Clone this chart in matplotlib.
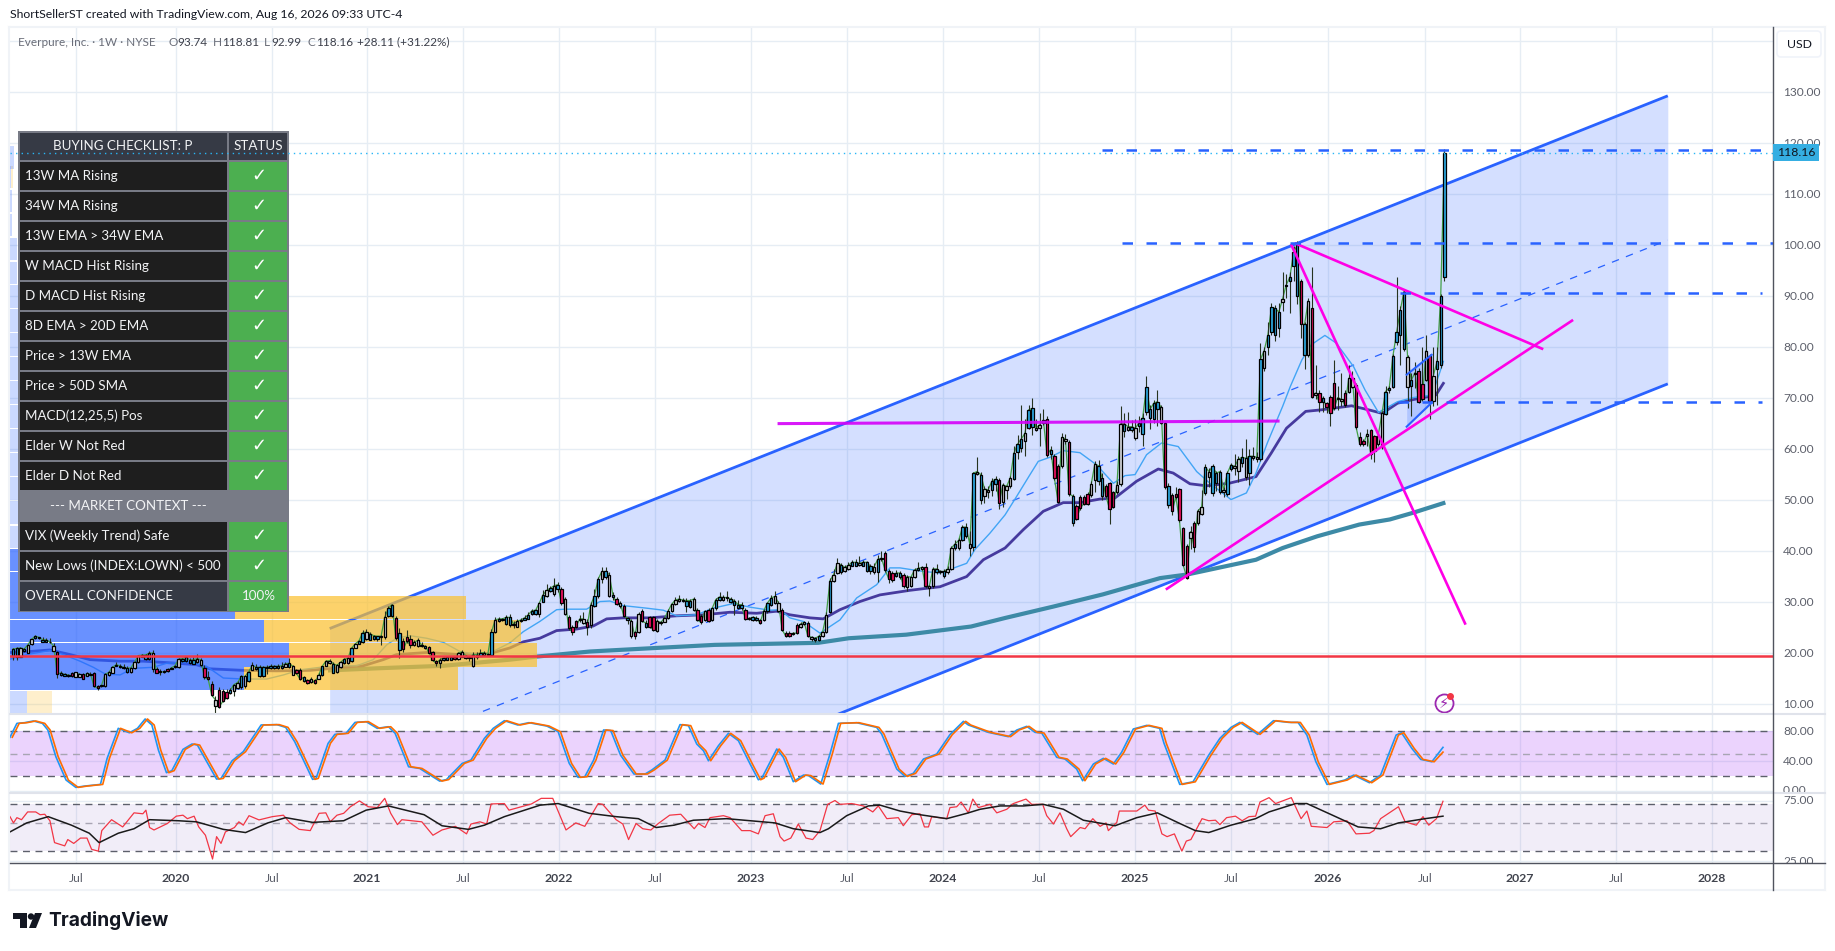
import numpy as np
import pandas as pd
import matplotlib
matplotlib.use("Agg")
import matplotlib.pyplot as plt
from matplotlib.lines import Line2D
from matplotlib.patches import Rectangle, Polygon, Circle, FancyBboxPatch
from matplotlib.transforms import Affine2D, Bbox

# ---- weekly candles (390 weeks up to Aug 2026)
last_week = "2026-08-10"
body_tops = [
    20.8,20.9,21,20.8,21.6,22.7,23.3,23.1,22.6,22.6,
    22.2,21.4,20.2,16.1,15.8,15.7,16.1,16.2,15.8,15.9,
    16,15.9,16,13.6,13.6,15.8,16.2,17.2,17.7,17.5,
    17.2,17,17.1,18.2,19.5,19.6,19.6,20,20,16.8,
    16.5,16.5,16.9,17.1,17.5,18.8,18.9,19.2,18.6,18.7,
    18.9,18.7,17,15.3,13.9,10.8,12.7,12.5,12.3,12.7,
    13.8,14.2,15.4,15.4,16.3,17.6,17.2,17.2,17.2,17.2,
    17.4,17.4,17.4,17.5,17.9,18,17.4,16.6,16.7,15.2,
    14.8,14.9,14.8,15.6,17.4,18.4,18.5,17.9,17.6,18.2,
    18.8,19,21,21.8,22.4,24,24.1,23.8,23.4,23.3,
    23.3,27,28.8,29.5,26.8,24,22.3,23.1,22.7,22.1,
    22.5,21.6,21.3,21.1,20.2,18.4,18.7,19.1,19.2,19.2,
    19.3,20,20.2,19.5,19.1,19.7,19.7,20,20.1,19.7,
    24.1,26.5,26.7,26.7,27,27,25.7,26.2,26.5,26.9,
    27.5,28.3,28.4,29.8,31.4,32.3,32.7,33.2,33.4,32.5,
    30.6,27,25.2,26.2,26.7,26.7,26,29.5,31.2,34.5,
    36,36,35.4,31.4,30.6,29.8,29.3,26.9,26.3,24.2,
    27.6,28.3,25.9,27,27,26.3,26,26.8,28.2,29.6,
    30.4,30.6,30.4,30.3,30.3,30.6,28.4,27.3,28.2,28.5,
    28.8,30.5,31,30.9,30.9,30.6,30.3,29.5,29.5,28.5,
    26.8,27,26.9,26.5,28.3,29.8,30.8,31.1,29.9,28.4,
    24,23.9,23.9,25.4,25.7,26,25.9,23.1,22.9,23.3,
    24.1,27.5,34.2,35.4,37.6,37.3,36.8,37.2,37.8,37.8,
    37.6,37.8,37.8,37,36.9,38.4,38.6,39.7,36,35.7,
    35.7,35.7,35.4,35,34.9,36.3,36.6,36.8,36.8,33.1,
    36.5,36.5,36,36,36.5,40.6,41.4,42.1,44.7,44.7,
    41.4,55.3,55.6,55,52.2,52,53.7,54.1,54,53,
    52.7,54.3,59.2,61,62,63.1,67.7,68,64.1,64.8,
    65.7,66,59.9,58.7,56.7,62.3,62,61.4,50.8,48.9,
    50.7,50.7,51.2,53.1,57.1,56.7,54.3,52.8,53.3,51.5,
    53,65,65,64.4,64.4,64.1,65.2,66.2,72.1,67.8,
    69,69.3,68.2,65.1,52.7,51,51.2,52.1,44.5,41,
    43.8,45.6,47.9,48.6,56.5,55.6,56.6,55.3,55.6,52,
    55.3,56.9,56.6,58,58.4,58.2,58.6,58.6,58.4,77.6,
    79.3,82.3,87.8,87.6,86.9,89.4,92.2,93.7,98.6,100,
    92.9,84.5,89.1,87.6,71,71,70,69,70.2,72.9,
    70.1,69.8,71,73.9,73.9,72.6,62.3,61.6,63,63.7,
    62.5,62.6,67,71.3,72,78.2,82.9,87.2,90.9,78,
    73.5,75,75.4,72.7,79.3,78.2,74.4,77.2,90,118.16,
]
body_bottoms = [
    19.5,19.2,19.3,20.3,20.1,21.8,22.9,22.9,22.2,22.2,
    22.1,20.4,15.9,15.7,15.5,15.4,15.4,15.3,15.3,15,
    15.5,15.7,13.5,13.1,13.5,13.5,15.7,16.1,17.5,17.2,
    17,16.2,16.2,17,18.2,19.3,18.8,18.8,16.9,16.1,
    16.3,16.3,16.4,16.9,17.2,17.2,18.4,18.4,18,17.9,
    18.2,17.7,15.2,14.9,11.7,9.6,9.5,10.5,11.2,12.1,
    12.5,13.1,13.3,13.6,14.6,16.7,16.9,15.5,15.4,17.1,
    17.1,17.1,17.1,17.1,17.3,17.2,15.7,16,14.9,14.6,
    14.1,14.4,14.1,15,15.6,17.5,18,16.1,16.2,17.2,
    18,18,18.4,21,21.8,22.1,22.7,22.6,22.7,22.7,
    23.1,23.2,27.3,27.3,23,20.5,20.7,22.3,21.6,21.6,
    21.4,21.4,21,20.1,18.6,18,18,18.7,18.7,18.7,
    18.8,18.8,19.3,19.1,19,17.4,19.2,19.5,19.6,19.6,
    19.7,24.1,26.2,26.4,25.7,25.5,25.4,25.2,26.2,26.5,
    26.7,27.6,27.7,27.7,30.1,31.1,32.1,31.6,32.5,29.8,
    27.7,24.9,24.2,25.2,26.4,25.9,25.2,25.5,29.3,31.2,
    34.5,35,31.2,31,29.7,29.3,27.2,26.5,23.3,23.3,
    24.2,26.2,25.2,25.2,24.6,24.4,25.8,26.1,26.8,28.2,
    29.6,30.3,30.3,29.3,29,28.5,26.5,26,26.4,26.2,
    26.5,28.8,30.5,30.5,30.7,30.1,29.5,28.8,28.8,26.7,
    26.7,26.5,26.4,25.9,26.4,28.2,29.5,29.8,28.2,24.6,
    23.3,23.3,23.7,23.9,25.2,25.6,23.3,22.7,22.6,22.6,
    23.3,24.2,28,34.2,35.7,35.8,36,36.5,37.1,37.1,
    37.3,37.1,36,36,35.8,35.8,38.4,36.3,34.5,34.4,
    35.2,35,33.1,32.9,33.2,34.9,36.2,36.5,33.1,32.8,
    33.1,35.8,35.8,35.2,35.8,36.5,40.6,40.6,42.1,42.9,
    40.6,40.8,55.2,50,50.9,51.5,51.9,53.2,49.5,49.7,
    52,52.7,54.2,59.4,60.2,61.5,64.1,64.4,63.8,64.1,
    65.2,58.9,59.1,54.3,49.7,56.6,61.5,51.2,45.6,46.3,
    48.4,49.3,49.3,51,53.9,53.8,50.9,50.8,48.2,48.7,
    51.5,53.1,63.6,63.8,63.8,62.2,64.6,63,67.2,66.2,
    65.9,67.8,65.2,52.5,49.1,47.8,50.6,46,37.3,34.7,
    42.5,40.8,45.5,47.2,51.4,54.6,51.4,53.3,51.5,51.5,
    51.2,56.1,56.3,55.8,57.2,54.5,55.3,58.2,58,58,
    76,80,82.9,82.3,83.7,88.8,91.9,92.9,96,90,
    84.5,78.4,78.4,70.3,70.7,69.2,69.2,68.2,67,68,
    69.9,69.5,68.6,71.3,72.2,64.3,61,61,62.6,59.1,
    59.7,61,60.4,66.9,71.5,72.2,81.1,82.4,79.6,72.2,
    72.3,74.7,69.3,69.8,73.6,69.5,69.5,75.7,76.5,93.74,
]
wick_highs = [
    21,21.1,21.1,21,21.7,22.8,23.6,23.2,23.1,23,
    22.9,22,20.4,16.4,16,15.9,16.3,16.3,16,16,
    16.2,16.2,16.2,13.8,13.7,16,16.4,17.4,18.2,17.8,
    17.9,17.5,17.3,18.4,19.6,19.8,19.9,20.3,20.6,17.2,
    16.8,16.7,17.1,17.3,17.6,19,19,19.4,19,19.2,
    19.8,19,17.6,16.5,14.5,11.5,13.3,13,13,13.2,
    14,14.6,15.6,15.6,16.5,18.2,17.8,17.6,17.5,17.6,
    17.8,17.7,17.9,18.3,18.2,19,17.6,16.8,17,15.4,
    15,15.2,15,16,17.5,18.6,18.8,18.2,17.8,18.4,
    19,19.5,21.2,22,22.6,24.6,24.8,24.2,23.6,23.4,
    23.6,28.2,29.2,29.7,27.2,25,23,24.6,23.6,22.6,
    23,22.2,21.5,21.4,20.4,18.6,19,19.3,19.4,19.3,
    19.4,20.2,20.5,19.7,19.3,20.2,20.2,20.7,20.4,20.1,
    24.8,27,27,26.9,27.5,27.6,26.3,26.6,26.8,27.4,
    28,28.6,28.7,30.1,32.3,33.5,33.1,34.8,34,33,
    31,27.4,25.5,26.5,27.4,28,26.6,30,32.5,35,
    36.8,36.8,35.8,31.9,30.9,30.3,29.6,27.1,26.6,24.4,
    28,28.6,26.4,27.2,27.3,26.6,26.2,27,28.7,29.9,
    30.9,31.4,30.8,30.7,30.6,31,28.8,27.6,28.5,28.8,
    29.1,30.8,31.9,31.3,32.2,31,30.6,30.5,30.1,28.8,
    27.1,27.2,27.3,26.7,28.6,30,31.4,32.2,30.2,28.8,
    24.3,24.4,24.2,25.8,26,26.2,26.2,23.4,23.1,23.6,
    24.4,28,34.8,36.5,38.6,37.6,37.2,37.8,38.2,38.4,
    39,38.2,38,37.4,37.6,39.2,40,40,36.4,36,
    36.2,36,35.7,35.4,35.2,36.6,37.8,37.1,37.6,33.3,
    36.8,37.4,36.3,36.5,37,41,42.1,42.5,45.2,45.6,
    44,55.5,58.4,55.6,52.7,52.8,54.3,54.8,54.3,53.3,
    53,54.8,60.7,62.7,68.6,66,68.6,70.1,66,67,
    67.8,66.5,60.7,59.1,57,63.2,63,61.7,51.2,49.2,
    51,51,51.5,53.7,57.6,57.8,55.4,53.1,53.6,51.8,
    53.7,68.4,67,67.2,65.7,66,66.4,67,74.4,68.7,
    69.6,71.5,68.6,65.4,53.3,51.3,52.5,52.4,44.8,41.4,
    45,45.9,48.2,52,57,56.2,57,55.7,56,52.6,
    55.7,57.3,59.1,58.7,60.2,61.9,60,60.5,59.5,80.8,
    80,85,88.7,88.2,88.6,94.8,94.4,94.8,99.9,100.8,
    93.3,84.9,89.7,95.7,76.5,71.5,70.4,69.3,70.6,77.5,
    72.3,75,71.5,76.5,75.4,73,63.3,62,64,64,
    62.8,63,67.4,72.3,72.3,78.6,93.8,88,91.5,78.4,
    75,77,76,80,82.3,78.6,80,80,90.5,118.81,
]
wick_lows = [
    18.7,18.7,19.2,20.2,20,21.6,22.8,22.8,22.1,22.1,
    22,20.3,15.1,15.5,15.4,15.2,15.3,15.2,15.2,14.9,
    15.4,15.6,13.4,12.8,13.3,13.4,15.5,16,17.4,17.1,
    16.9,16.1,16,16.9,18.1,19.2,18.7,18.6,16.3,16,
    15.7,16.1,16.3,16.8,17.1,17.1,18.2,18.3,17.9,17.8,
    18.1,17.5,15,14.7,11.5,8.2,9.3,10.3,11,12,
    11.6,13,13,13.2,14.4,16.6,16.7,15.3,15.2,15.9,
    16.8,16.9,16.9,16.8,17.2,17.1,15.6,15.8,14.7,14.4,
    14,14.2,14,14.9,15.4,17.4,17.9,16,16,17.1,
    17.9,17.9,18.2,20.9,21.7,22,22.5,22.5,22.5,22.4,
    21.5,22.8,27,27,22.6,19,20.2,22,21,21.4,
    21.2,21.2,20.7,20,18.4,17.4,17,18.4,18.6,18.7,
    18.7,18.7,19.2,18.9,18.4,17.3,18.9,19.4,19.4,19.4,
    19.5,23.9,26.1,26.2,25.5,25.2,25,25.1,26,26.4,
    26.6,27.5,27.5,27.1,30,31,32,31.2,32,29.5,
    27.4,24.5,23.5,25,26,25.6,23.5,25,29,30.8,
    33.8,34.5,31,30.5,29.5,28.8,27,25.7,23,22.7,
    23.9,26,25,25,24.3,24.2,25.5,26,26.6,28,
    29.4,30.1,30,28,28.8,28.2,26.2,25.7,26.2,26,
    26.3,28.5,30.3,30.3,30.2,29.8,27.4,28.6,28.4,26.5,
    26.4,26.3,26.2,25.6,26.2,27.8,29.2,29.6,28,24.4,
    23.1,23.1,23.5,23.7,25,25.5,23.1,22.4,22.2,22.4,
    23.2,24,27.8,34,35.5,35.5,35.8,36.3,37,37,
    37.1,37,35.8,35.6,35.5,34,38,35.9,33.8,34,
    34.9,34.6,32.7,32.2,32.9,34.7,36,36.3,32.8,31.1,
    32.8,35.5,35.5,34.8,35.6,36.2,40.3,40.3,41.9,42.6,
    39,40,54.9,49.2,49.5,50.5,50.9,51.8,48.3,48.7,
    50.3,52.3,53.9,58,59.5,58.6,63.9,62.7,63.5,60.7,
    64.8,58.5,58,54,49.4,56.3,61,50.9,44.9,46,
    48.1,49,49,50.6,51.5,53,50,50.5,45.3,48.4,
    51.2,52.8,62.3,63.5,63.4,61.7,63.3,60.7,66.6,64,
    65.2,64.5,65,52.2,48.5,47,50.3,45.7,37,34.5,
    40.5,39.8,45.2,47,51,52.6,50.8,51.8,51.2,50.6,
    50.9,55.8,55,53.5,56.5,54,53,57.8,57.5,57.7,
    75.4,78.5,82.4,81.3,82,87,89.7,86.7,93,88.4,
    81.8,75.7,78,70,69.8,67.3,67.2,67,64.6,67.7,
    67.7,68.5,68.2,71,72,64,60.7,60.7,60.7,58,
    57.5,60.7,60,66.6,71,71.9,80.5,76.5,79.3,68,
    66.5,72,69,69.5,73.3,65.9,68.5,68.6,76,92.99,
]
body_kinds = (
    "bbwbwwbbbb" "wwrbbbrwwr" "wbrrwwwwbb" "bbwwwbbbwr" "rrrbbwbbbb"
    "wwrrrwrrrb" "wwbwbwbbbb" "bbbbwbwrrb" "rwrwbwwbww" "bwbwbbwbbb"
    "wwbbrbrrrw" "wbbrrrwbbb" "rwwbbwwbwb" "bwbbbbbwbb" "bbbwbwbwbr"
    "wrrrbwrwbb" "wbwbrwrbwr" "wrbrrwbwww" "wwbbbwrrwr" "wbbwbbbbbr"
    "bbbrwbbwwr" "rrbrwwrwbb" "wwbwwbwwbb" "wbbbwbwrrr" "bbrwwwbwrw"
    "wbbbwwbwbb" "wbwbwwbbrw" "wwbbbwbbww" "brbrrwwrbr" "rrrwwbbrrr"
    "wwbwbwbbbb" "bbwrbrrrrr" "wrwwbwbbbw" "bbwwbwbwwb" "wbbbbwbbbb"
    "rbwrwrbrrr" "wwrwwrrrwr" "rwwbbbbbbw" "bwrrwrwbbb"
)

# ---- moving averages, vertices (decimal year, price)
ma13_years = [2019.135,2019.222,2019.343,2019.413,2019.5,2019.569,2019.63,2019.708,2019.777,2019.882,2019.951,
    2020.073,2020.159,2020.246,2020.35,2020.472,2020.559,2020.645,2020.75,2020.854,2020.941,
    2021.027,2021.097,2021.149,2021.218,2021.305,2021.392,2021.479,2021.566,2021.618,2021.687,2021.739,2021.809,2021.895,2021.982,
    2022.026,2022.138,2022.208,2022.26,2022.329,2022.451,2022.538,2022.607,2022.711,2022.798,2022.902,2022.989,
    2023.093,2023.145,2023.197,2023.267,2023.354,2023.406,2023.458,2023.545,2023.649,2023.718,2023.771,2023.892,2023.979,
    2024.118,2024.161,2024.239,2024.318,2024.378,2024.448,2024.491,2024.552,2024.621,2024.708,2024.795,2024.882,2024.943,2024.995,
    2025.055,2025.133,2025.22,2025.316,2025.385,2025.495,2025.575,2025.625,2025.684,2025.764,2025.804,2025.864,2025.914,2025.984,
    2026.043,2026.133,2026.193,2026.263,2026.362,2026.442,2026.542,2026.581,2026.601]
ma13_prices = [18.8,19.7,20.5,19.7,18.4,17.2,15.9,15.7,17,17.2,18,
    18.2,17.4,15.1,14.9,14.9,15.7,16.7,17.2,17.5,17.5,
    18.7,21.6,22.9,23.4,22.9,22.1,20.3,19.7,19.7,21,22,24.2,26.2,28.5,
    28.6,28.6,30.1,30.2,29.3,28.8,28.4,27.3,27.5,28.8,29.7,29,
    28.4,28.5,26.9,26.2,23.9,25.2,26.5,30.8,33.4,36.7,36.7,36,35.7,
    37.6,40.3,43.5,47.1,50.7,55,57.6,58.4,59.7,59.3,56.9,53.3,54.8,55,
    58.9,61.2,60.5,55.6,53.3,50.1,51.4,55.3,61.2,68.4,72.3,77.5,80.5,82.3,
    80.8,76.2,71.6,67.2,69.3,70.1,70.6,74.9,77.2]

ma34_years = [2019.135,2019.239,2019.343,2019.448,2019.552,2019.708,2019.829,2020.003,2020.107,2020.177,2020.35,2020.524,2020.698,2020.871,2020.975,
    2021.079,2021.149,2021.305,2021.479,2021.635,2021.739,2021.809,2021.895,2021.982,
    2022.086,2022.173,2022.243,2022.329,2022.468,2022.607,2022.746,2022.885,
    2023.024,2023.128,2023.197,2023.302,2023.371,2023.458,2023.562,2023.666,2023.822,2023.909,2023.979,
    2024.118,2024.205,2024.318,2024.413,2024.517,2024.621,2024.708,2024.812,2024.89,
    2025.003,2025.116,2025.194,2025.281,2025.368,2025.485,2025.625,2025.704,2025.784,2025.884,2025.964,
    2026.123,2026.223,2026.283,2026.362,2026.442,2026.562,2026.601]
ma34_prices = [20.1,20.3,20.6,19.7,18.7,18.4,18.4,18,17.7,16.9,16.6,16.5,16.6,17.2,17.5,
    18.7,19.7,20.1,19.7,19.9,21,22.2,22.9,24.4,
    24.7,25.3,26.7,26.9,26.9,27.3,27.5,28,
    27.8,28.2,27.5,26.9,26.7,28.5,30.1,31.4,32.3,32.7,33,
    35,38.3,40.6,44.2,47.8,49.5,49.5,50.2,50.4,
    53.7,56.1,55.3,53.2,52.8,53.3,54.6,59.2,64.1,67.4,67.7,
    68.5,67.6,67,69,69.7,70.6,72.9]

ma200_years = [2020.802,2021.045,2021.392,2021.739,2021.878,2022.156,2022.503,2022.806,2023.344,2023.504,2023.803,
    2024.141,2024.321,2024.568,2024.827,2025.126,2025.266,2025.625,2025.764,2025.944,2026.163,2026.322,2026.442,2026.601]
ma200_prices = [16.6,17,17.5,18.7,19.3,20.3,21,21.6,22,22.9,23.6,
    25.2,26.9,29.1,31.5,34.7,35.4,38.3,40.6,42.9,45.2,46.2,47.5,49.4]

# ---- drawings
channel_years = [2020.80, 2027.77]
channel_upper = [24.8, 129.3]
channel_mid = [-3.4, 101.0]
channel_lower = [-31.7, 72.8]
flag_years = [2026.41, 2026.54]
flag_upper = [74.6, 78.5]
flag_lower = [64.4, 69.1]
pink_flat_years = [2023.141, 2025.74]
pink_flat_prices = [65.0, 65.5]
pink_rise_years = [2025.161, 2027.271]
pink_rise_prices = [32.6, 85.2]
pink_fall_years = [2025.833, 2027.115]
pink_fall_prices = [100.3, 79.7]
pink_drop_years = [2025.81, 2026.714]
pink_drop_prices = [100.0, 25.8]
level_prices = [118.7, 100.5, 90.7, 69.3]
level_starts = [2024.823, 2024.927, 2026.375, 2026.365]
level_ends = [2028.318, 2028.318, 2028.26, 2028.26]
support_price = 19.5
last_price = 118.16

# ---- volume profile rows (price band, up share and total as share of pane width)
vp_lows = [12.8,17.3,22.1,26.7,31.2,36.0]
vp_highs = [17.2,22.0,26.5,31.1,35.8,40.5]
vp_up = [0.1327,0.158,0.144,0.1276,0.10,0.06]
vp_total = [0.254,0.299,0.2899,0.2587,0.10,0.06]
vp_light_lows = [8.1,40.6,45.4,50.1,54.8,59.5,64.2,68.9,73.6,78.3,83.0,87.7,92.4,97.1,101.8,106.5,111.2,115.0]
vp_light_up = [0.0096,0.06,0.06,0.05,0.05,0.05,0.05,0.05,0.05,0.05,0.05,0.05,0.004,0.004,0.001,0.001,0.0005,0.002]
vp_light_total = [0.0238,0.06,0.06,0.05,0.05,0.05,0.05,0.05,0.05,0.05,0.05,0.05,0.004,0.004,0.001,0.001,0.0017,0.002]

# ---- stochastic pane
stoch_k_years = [2019.135,2019.171,2019.211,2019.257,2019.304,2019.332,2019.374,2019.427,2019.478,2019.525,2019.606,2019.641,2019.699,2019.757,2019.799,2019.839,2019.874,2019.908,2019.95,2019.978,
    2020.036,2020.083,2020.111,2020.211,2020.234,2020.292,2020.35,2020.443,2020.525,2020.571,2020.618,2020.711,2020.729,2020.792,2020.827,2020.885,2020.932,2020.99,
    2021.048,2021.106,2021.141,2021.211,2021.269,2021.373,2021.408,2021.49,2021.536,2021.606,2021.652,2021.71,2021.78,2021.838,2021.931,2021.99,
    2022.048,2022.094,2022.129,2022.175,2022.227,2022.264,2022.315,2022.385,2022.443,2022.478,2022.547,2022.625,2022.669,2022.712,2022.747,2022.773,2022.825,2022.877,2022.929,2022.99,
    2023.033,2023.051,2023.129,2023.163,2023.215,2023.268,2023.294,2023.358,2023.406,2023.45,2023.545,2023.649,2023.675,2023.754,2023.797,2023.84,2023.893,2023.962,
    2024.031,2024.101,2024.127,2024.231,2024.335,2024.379,2024.431,2024.474,2024.509,2024.587,2024.63,2024.691,2024.722,2024.778,2024.83,2024.882,2024.925,2024.986,
    2025.056,2025.123,2025.146,2025.228,2025.297,2025.379,2025.437,2025.495,2025.541,2025.634,2025.716,2025.797,2025.844,2025.89,2025.937,2025.995,
    2026.088,2026.134,2026.216,2026.274,2026.355,2026.383,2026.437,2026.483,2026.541,2026.599]
stoch_k = [72,90.7,91.6,93.9,90.7,81.8,45.8,14.4,4.5,6.3,8.5,43.6,84,78,84,96.6,88.5,54.8,24.3,27,
    55.7,62.9,61.5,15.7,16.6,40.4,52.6,88.5,89,85.3,66,15.3,16.6,63.8,75.9,77.3,92,93,
    84,86.2,77.3,32.3,30,13,15,36.8,41.3,70.5,84,94.3,88.5,91.6,87.1,79.5,
    36.8,18,18.9,41.3,81.8,81,48,22.5,22.5,27.9,41.3,89,87.6,62.9,53.9,40.4,60.6,77.3,67.4,36,
    14.8,17,56.2,45,12.2,21.1,20.4,9,49.4,90.7,91.6,85.3,76.4,29.2,19.3,23.4,42.7,49.4,
    75.5,93.4,88.5,78.6,72.8,81.7,86.7,78.6,77.7,45,42.7,29.2,13.5,36,43.6,36,51.7,83.1,
    88,84,63.8,8.5,12,48,70.5,85.3,92,75.9,94.3,92,92,75,39,8.5,
    14.4,21.1,10.8,21.1,75,78.1,57,42.2,39,58.4]
stoch_d_years = [2019.147,2019.183,2019.223,2019.269,2019.316,2019.344,2019.386,2019.439,2019.49,2019.537,2019.618,2019.653,2019.711,2019.769,2019.811,2019.851,2019.886,2019.92,2019.962,2019.99,
    2020.048,2020.095,2020.123,2020.223,2020.246,2020.304,2020.362,2020.455,2020.537,2020.583,2020.63,2020.723,2020.741,2020.804,2020.839,2020.897,2020.944,2021.002,
    2021.06,2021.118,2021.153,2021.223,2021.281,2021.385,2021.42,2021.502,2021.548,2021.618,2021.664,2021.722,2021.792,2021.85,2021.943,2022.002,
    2022.06,2022.106,2022.141,2022.187,2022.239,2022.276,2022.327,2022.397,2022.455,2022.49,2022.559,2022.637,2022.681,2022.724,2022.759,2022.785,2022.837,2022.889,2022.941,2023.002,
    2023.045,2023.063,2023.141,2023.175,2023.227,2023.28,2023.306,2023.37,2023.418,2023.462,2023.557,2023.661,2023.687,2023.766,2023.809,2023.852,2023.905,2023.974,
    2024.043,2024.113,2024.139,2024.243,2024.347,2024.391,2024.443,2024.486,2024.521,2024.599,2024.642,2024.703,2024.734,2024.79,2024.842,2024.894,2024.937,2024.998,
    2025.068,2025.135,2025.158,2025.24,2025.309,2025.391,2025.449,2025.507,2025.553,2025.646,2025.728,2025.809,2025.856,2025.902,2025.949,2026.007,
    2026.1,2026.146,2026.228,2026.286,2026.367,2026.395,2026.449,2026.495,2026.553,2026.599]
stoch_d = stoch_k[:-1] + [52.0]

# ---- RSI pane
rsi_years = [2019.135,2019.153,2019.171,2019.195,2019.227,2019.269,2019.292,2019.316,2019.343,2019.367,2019.42,2019.436,2019.467,2019.502,2019.536,2019.56,2019.595,2019.613,2019.664,2019.722,2019.781,2019.827,2019.843,2019.862,2019.885,2019.955,
    2020.001,2020.036,2020.059,2020.094,2020.118,2020.153,2020.19,2020.211,2020.234,2020.257,2020.304,2020.327,2020.35,2020.38,2020.432,2020.501,2020.559,2020.594,2020.641,2020.699,2020.745,2020.78,2020.803,2020.838,2020.873,2020.908,2020.955,
    2021.001,2021.048,2021.087,2021.118,2021.153,2021.176,2021.28,2021.338,2021.385,2021.455,2021.513,2021.536,2021.583,2021.618,2021.641,2021.71,2021.734,2021.851,2021.902,2021.962,
    2022.031,2022.082,2022.129,2022.199,2022.222,2022.292,2022.327,2022.357,2022.396,2022.431,2022.473,2022.512,2022.571,2022.629,2022.699,2022.721,2022.755,2022.781,2022.851,2022.886,2022.946,2022.99,
    2023.033,2023.068,2023.111,2023.146,2023.167,2023.202,2023.241,2023.281,2023.316,2023.354,2023.394,2023.432,2023.459,2023.519,2023.58,2023.629,2023.658,2023.702,2023.762,2023.788,2023.832,2023.875,2023.898,2023.919,2023.936,
    2024.014,2024.031,2024.066,2024.089,2024.127,2024.15,2024.179,2024.24,2024.275,2024.327,2024.361,2024.427,2024.457,2024.514,2024.535,2024.57,2024.604,2024.639,2024.66,2024.709,2024.735,2024.775,2024.813,2024.844,2024.856,2024.9,2024.913,
    2025.004,2025.046,2025.065,2025.1,2025.135,2025.162,2025.2,2025.239,2025.262,2025.286,2025.344,2025.379,2025.414,2025.437,2025.472,2025.518,2025.553,2025.588,2025.623,2025.646,2025.693,2025.727,2025.809,2025.86,2025.89,2025.913,2025.995,
    2026.03,2026.099,2026.146,2026.216,2026.239,2026.274,2026.367,2026.402,2026.46,2026.495,2026.525,2026.565,2026.599]
rsi_vals = [56,50,55,53,61,61,58,58.5,52,35,33,37,34.5,38,38,31,30,43.5,53,46.5,60,59,63,46,44,49.5,
    56.5,57.5,54,56.5,46.5,40,26,39,34.5,42.5,46,51,48,57,52.8,56,57.5,50,44.5,43.5,59.5,60,51,57.5,59.5,67,74.5,
    67,66,78,59.5,48.5,53,51,40,44,47,41,49,51,49,70.5,71,63,70.5,78,78,
    44,50,47,71,70,53,49,37,49.5,45,44,49.5,57.5,58.5,45,49.5,46,55,57,55,43.5,43.5,
    41,57,59,39,36,38,49,38,37,43.5,70,75,70,71,68,61,68,54,55,47.5,58,59,46.5,46.5,56,
    54,66,67,73,60,77,66,70,60,64,71,77,70,70,57,49,60,45,39,46,45,54,47,50,43.5,50.5,62,
    62,69,63,62,41,39,41,30,36,37,54,52,52.5,48.5,55,56.5,52,56,56.5,73,79,71,79,54,62,47,46,
    51,52,41,41.5,43.5,54,67,51,48,56,48,54,74]
rsi_ma_years = [2019.135,2019.222,2019.334,2019.455,2019.548,2019.599,2019.699,2019.781,2019.862,
    2020.013,2020.106,2020.246,2020.362,2020.478,2020.571,2020.711,2020.873,2020.99,
    2021.106,2021.292,2021.385,2021.523,2021.606,2021.71,2021.897,2021.99,
    2022.152,2022.292,2022.408,2022.501,2022.594,2022.695,2022.868,
    2023.12,2023.215,2023.354,2023.398,2023.493,2023.606,2023.667,2023.771,2023.875,
    2024.014,2024.119,2024.188,2024.292,2024.414,2024.517,2024.622,2024.726,2024.891,
    2025.004,2025.111,2025.228,2025.309,2025.379,2025.495,2025.623,2025.693,2025.832,2025.89,
    2026.018,2026.157,2026.274,2026.367,2026.506,2026.599]
rsi_ma_vals = [42.5,50,56,48,41.5,35,41.5,45,53,
    52,51,44.5,42,50,55,50.5,52,63,
    68,58,47.5,44.5,48,56,69,71,
    59.5,56,54,46,48,52.5,54,
    50,45,42,45,57,68,69,62,58,
    54,59.5,64,68,68,70,64,52.5,47.5,
    55,60,49.5,43.5,42,48,54,61,71,71,
    58,46.5,45,50,54,56.5]

# ---- axis labels
tick_years = [2019.479,2020,2020.5,2020.995,2021.495,2021.995,2022.495,2022.995,2023.495,2023.995,2024.495,2024.995,2025.495,2026,2026.505,2027,2027.5,2028]
tick_labels = ["Jul","2020","Jul","2021","Jul","2022","Jul","2023","Jul","2024","Jul","2025","Jul","2026","Jul","2027","Jul","2028"]
price_ticks = [10,20,30,40,50,60,70,80,90,100,110,120,130]
grid_prices = price_ticks + [140]
stoch_ticks = [0,40,80]
rsi_ticks = [25,75]

# ---- checklist table
check_rows = ["13W MA Rising","34W MA Rising","13W EMA > 34W EMA","W MACD Hist Rising","D MACD Hist Rising",
    "8D EMA > 20D EMA","Price > 13W EMA","Price > 50D SMA","MACD(12,25,5) Pos","Elder W Not Red","Elder D Not Red"]
context_rows = ["VIX (Weekly Trend) Safe","New Lows (INDEX:LOWN) < 500"]

W, H = 1835, 951
FONT = "Lato"
GRID = "#e6edf4"
plt.rcParams["font.family"] = [FONT, "DejaVu Sans"]

fig = plt.figure(figsize=(W/100, H/100), dpi=100, facecolor="white")
# everything outside the data panes is placed in image pixels, y going down
px = Affine2D().scale(1, -1).translate(0, H)


def pane(top, bottom):
    a = fig.add_axes([10/W, 1-bottom/H, 1763/W, (bottom-top)/H])
    for s in a.spines.values():
        s.set_visible(False)
    a.set_xlim(2019.135, 2028.318)
    a.set_xticks(tick_years)
    a.set_xticklabels([])
    a.tick_params(length=0, labelleft=False)
    a.grid(True, color=GRID, lw=1.0)
    a.set_axisbelow(True)
    return a


def axis_label(a, value, text, top, bottom):
    t = a.text(1.0057, value, text, transform=a.get_yaxis_transform(), ha="left", va="center",
               fontsize=8.6, color="#5d606b", zorder=30)
    t.set_clip_box(Bbox([[1773, H-bottom], [1825, H-top]]))
    t.set_clip_on(True)


ax = pane(27, 714)
ax.set_ylim(8.04, 142.8)
ax.set_yticks(grid_prices)
for p in price_ticks:
    axis_label(ax, p, f"{p}.00", 27, 714)

# channel, under the profile
ax.fill_between(channel_years, channel_lower, channel_upper, color="#2962ff", alpha=0.2, lw=0, zorder=1)
ax.plot(channel_years, channel_upper, color="#2962ff", lw=2, zorder=2, solid_capstyle="butt")
ax.plot(channel_years, channel_lower, color="#2962ff", lw=2, zorder=2, solid_capstyle="butt")
ax.plot(channel_years, channel_mid, color="#2962ff", lw=0.9, ls=(0, (6, 6)), zorder=2)
ax.fill_between(flag_years, flag_lower, flag_upper, color="#2962ff", alpha=0.2, lw=0, zorder=2)
ax.plot(flag_years, flag_upper, color="#2962ff", lw=1.5, zorder=5)
ax.plot(flag_years, flag_lower, color="#2962ff", lw=1.5, zorder=5)

# moving averages
ax.plot(ma200_years, ma200_prices, color="#3d8aa6", lw=3.0, zorder=2.5)
ax.plot(ma34_years, ma34_prices, color="#463a9e", lw=2.0, zorder=2.5)
ax.plot(ma13_years, ma13_prices, color="#42a5f5", lw=1.0, zorder=2.5)

# volume profile
ytr = ax.get_yaxis_transform()
for lo, hi, up, tot in zip(vp_lows, vp_highs, vp_up, vp_total):
    ax.add_patch(Rectangle((0, lo), up, hi-lo, transform=ytr, color="#2962ff", alpha=0.7, lw=0, zorder=3))
    ax.add_patch(Rectangle((up, lo), tot-up, hi-lo, transform=ytr, color="#fbc02d", alpha=0.7, lw=0, zorder=3))
for lo, up, tot in zip(vp_light_lows, vp_light_up, vp_light_total):
    ax.add_patch(Rectangle((0, lo), up, 4.4, transform=ytr, color="#2962ff", alpha=0.24, lw=0, zorder=3))
    ax.add_patch(Rectangle((up, lo), tot-up, 4.4, transform=ytr, color="#fbc02d", alpha=0.24, lw=0, zorder=3))

# candles
dates = pd.date_range(end=last_week, periods=len(body_tops), freq="7D")
bar_years = 2020 + (dates - pd.Timestamp("2020-01-01")).days.to_numpy() / 365.25
kinds = list(body_kinds)
closes = [b if k == "r" else t for t, b, k in zip(body_tops, body_bottoms, kinds)]
ax.plot(bar_years, closes, color="#43a047", lw=0.9, zorder=3.5)
ax.vlines(bar_years, wick_lows, wick_highs, color="#26331f", lw=0.8, zorder=3.6)
body_colors = [{"b": "#2ca8e0", "r": "#ec1160", "w": "#d5d8dc"}[k] for k in kinds]
tops = np.array(body_tops)
bots = np.array(body_bottoms)
ax.bar(bar_years, np.maximum(tops-bots, 0.15), bottom=bots, width=2.4/192, color=body_colors,
       edgecolor="black", linewidth=0.9, zorder=4)

# trend lines and levels
ax.plot(pink_flat_years, pink_flat_prices, color="#d500f9", lw=2.2, alpha=0.9, zorder=5)
for xs, ys in [(pink_rise_years, pink_rise_prices), (pink_fall_years, pink_fall_prices), (pink_drop_years, pink_drop_prices)]:
    ax.plot(xs, ys, color="#ff00e6", lw=1.9, zorder=5)
for level, x0, x1 in zip(level_prices, level_starts, level_ends):
    ax.plot([x0, x1], [level, level], color="#2962ff", lw=1.8, ls=(0, (4.2, 5.4)), zorder=5.5)
ax.axhline(support_price, color="#f23645", lw=1.8, zorder=5)
ax.axhline(last_price, color="#29b6f6", lw=1, ls=(0, (1, 3)), zorder=25)

# lightning badge
ax.plot([2026.605], [10.2], marker="o", ms=13, mfc="none", mec="#9c27b0", mew=1.3, zorder=6)
ax.text(2026.605, 10.1, "\u26a1", family="DejaVu Sans", color="#9c27b0", fontsize=10.5, ha="center", va="center", zorder=6)
ax.plot([2026.637], [11.6], marker="o", ms=4, color="#f23645", zorder=7)

# stochastic
ax2 = pane(714, 792)
ax2.set_ylim(-1.7, 103.3)
ax2.set_yticks(stoch_ticks)
for p in stoch_ticks:
    axis_label(ax2, p, f"{p}.00", 714, 794)
ax2.axhspan(20, 80, color="#9c27f5", alpha=0.2, lw=0, zorder=1)
for p, c in [(80, "#5d606b"), (50, "#a8a5b3"), (20, "#5d606b")]:
    ax2.axhline(p, color=c, lw=1, ls=(0, (5, 4)), zorder=2)
ax2.plot(stoch_k_years, stoch_k, color="#2196f3", lw=1.2, zorder=3)
ax2.plot(stoch_d_years, stoch_d, color="#ff6d00", lw=1.2, zorder=4)

# RSI, log scale as on the chart
ax3 = pane(794, 863)
ax3.set_yscale("log")
ax3.set_ylim(24.2, 84.4)
ax3.set_yticks(rsi_ticks)
ax3.minorticks_off()
ax3.tick_params(axis="y", which="both", length=0, labelleft=False)
ax3.set_xticklabels(tick_labels)
for lab, txt in zip(ax3.get_xticklabels(), tick_labels):
    lab.set_fontsize(8.8)
    lab.set_color("#5d606b" if txt == "Jul" else "#41444e")
    lab.set_fontweight("normal" if txt == "Jul" else "bold")
ax3.tick_params(axis="x", pad=7)
for p in rsi_ticks:
    axis_label(ax3, p, f"{p}.00", 794, 863)
ax3.axhspan(30, 70, color="#7e57c2", alpha=0.1, lw=0, zorder=1)
for p, c in [(70, "#5d606b"), (50, "#a8a5b3"), (30, "#5d606b")]:
    ax3.axhline(p, color=c, lw=1, ls=(0, (5, 4)), zorder=2)
ax3.plot(rsi_years, rsi_vals, color="#f23645", lw=0.9, zorder=3)
ax3.plot(rsi_ma_years, rsi_ma_vals, color="#1a1a1a", lw=1.1, zorder=4)


# ---- frame, in pixels
def hline(x0, x1, y, color, lw):
    fig.add_artist(Line2D([x0, x1], [y, y], transform=px, color=color, lw=lw, zorder=40))


def vline(x, y0, y1, color, lw):
    fig.add_artist(Line2D([x, x], [y0, y1], transform=px, color=color, lw=lw, zorder=40))


hline(9, 1825, 27, "#f0f3f7", 1.5)
hline(9, 1825, 890, "#f0f3f7", 1.5)
vline(9, 27, 890, "#f0f3f7", 1.5)
vline(1825, 27, 890, "#f0f3f7", 1.5)
hline(10, 1825, 714, "#e0e3eb", 1.5)
hline(10, 1825, 793, "#e0e3eb", 1.5)
hline(10, 1825, 863, "#50535e", 1.0)
vline(1773, 27, 890, "#50535e", 1.0)

fig.text(10/W, 1-15/H, "ShortSellerST created with TradingView.com, Aug 16, 2026 09:33 UTC-4",
         fontsize=8.8, color="#131722", va="center")

# legend strip
for x, txt, col in [(18, "Everpure, Inc. \u00b7 1W \u00b7 NYSE", "#6a6d78"), (168, "O", "#6a6d78"), (177, "93.74", "#3c3f4a"),
                    (213, "H", "#6a6d78"), (222, "118.81", "#3c3f4a"), (264, "L", "#6a6d78"), (271, "92.99", "#3c3f4a"),
                    (307, "C", "#6a6d78"), (316, "118.16", "#3c3f4a"), (357, "+28.11 (+31.22%)", "#3c3f4a")]:
    fig.text(x/W, 1-42/H, txt, fontsize=8.5, color=col, va="center", zorder=41)

# last price box and currency button
fig.add_artist(Rectangle((1773, 144), 46, 17, transform=px, color="#35aee2", lw=0, zorder=42))
fig.text(1796/W, 1-152.5/H, "118.16", fontsize=8.8, color="#10151f", ha="center", va="center", zorder=43)
fig.add_artist(FancyBboxPatch((1779, 33), 40, 22, boxstyle="round,pad=2,rounding_size=4", transform=px,
                              fc="white", ec="#f0f3fa", lw=1.2, zorder=42))
fig.text(1799/W, 1-44/H, "USD", fontsize=8.8, color="#131722", ha="center", va="center", zorder=43)


# ---- checklist table, inside the main axes so the dotted line can pass over it
def cell(x, y, w, h, color):
    r = Rectangle((x, y), w, h, transform=px, facecolor=color, edgecolor="none", zorder=20, clip_on=False)
    ax.add_artist(r)


def cell_text(x, y, txt, ha="left", family=None, size=9.6, weight="normal", color="#f2f3f5"):
    ax.text(x, y, txt, transform=px, ha=ha, va="center", fontsize=size, fontweight=weight, color=color,
            zorder=21, clip_on=False, family=family or [FONT, "DejaVu Sans"])


tab_x, tab_y, split, tab_r, row_h = 18, 131, 228, 289, 30
cell(tab_x, tab_y, tab_r-tab_x, 481, "#787b86")
cell(tab_x+2, tab_y+2, split-tab_x-3, 27, "#363a45")
cell(split+1, tab_y+2, tab_r-split-3, 27, "#363a45")
cell_text((tab_x+split)/2, tab_y+15, "BUYING CHECKLIST: P", ha="center")
cell_text((split+tab_r)/2, tab_y+15, "STATUS", ha="center")
all_rows = check_rows + [None] + context_rows + ["OVERALL CONFIDENCE"]
for i, label in enumerate(all_rows):
    y = tab_y + row_h*(i+1)
    if label is None:
        cell_text((tab_x+tab_r)/2-25, y+15, "--- MARKET CONTEXT ---", ha="center")
        continue
    last = label == "OVERALL CONFIDENCE"
    cell(tab_x+2, y+1, split-tab_x-3, row_h-2 if not last else row_h-1, "#363a45" if last else "#1e1e1e")
    cell(split+1, y+1, tab_r-split-3, row_h-2 if not last else row_h-1, "#4caf50")
    cell_text(tab_x+7, y+15, label)
    if last:
        cell_text((split+tab_r)/2, y+15, "100%", ha="center")
    else:
        cell_text((split+tab_r)/2, y+15, "\u2713", ha="center", family="DejaVu Sans", size=13, weight="bold", color="white")

# ---- TradingView mark
fig.add_artist(Polygon([(12.5, 913), (27, 913), (27, 928), (20, 928), (20, 919), (12.5, 919)], transform=px, color="#131722", lw=0))
fig.add_artist(Circle((31, 916.5), 3.2, transform=px, color="#131722", lw=0))
fig.add_artist(Polygon([(35, 913), (42, 913), (36, 928), (29, 928)], transform=px, color="#131722", lw=0))
fig.text(48/W, 1-921/H, "TradingView", fontsize=13.8, fontweight="bold", family="Inter", color="#131722", va="center")

fig.savefig("out.png", dpi=100, facecolor="white")
